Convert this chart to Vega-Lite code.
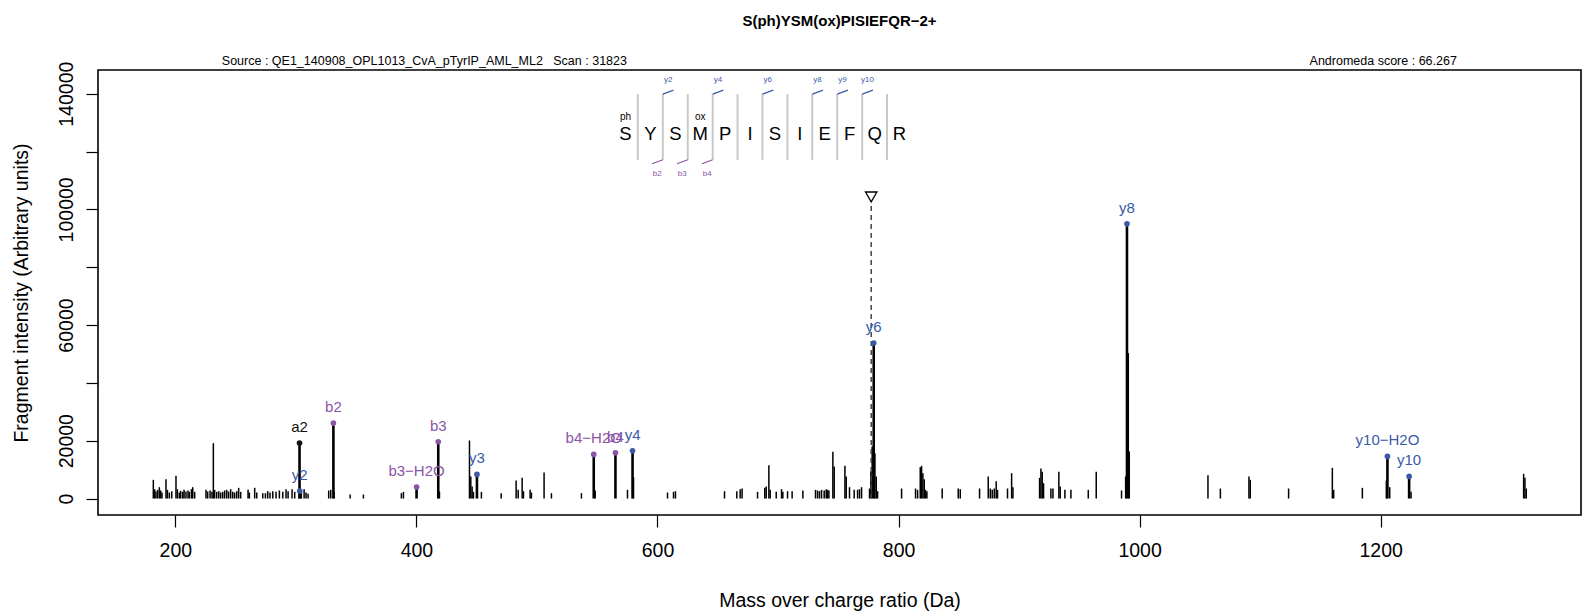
{
  "$schema": "https://vega.github.io/schema/vega-lite/v6.json",
  "width": 1483,
  "height": 445,
  "autosize": {"type": "none"},
  "padding": {"left": 98, "top": 70, "right": 2, "bottom": 96},
  "background": "white",
  "title": {"text": "S(ph)YSM(ox)PISIEFQR−2+", "font": "Liberation Sans", "fontSize": 15, "fontWeight": "bold", "color": "black", "anchor": "middle", "frame": "group", "offset": 26},
  "config": {
    "view": {"stroke": "black", "strokeWidth": 1.6},
    "font": "Liberation Sans",
    "axis": {"domain": false, "grid": false, "tickColor": "black", "tickWidth": 1.2, "tickSize": 12, "labelFont": "Liberation Sans", "labelFontSize": 19.5, "labelColor": "black", "titleFont": "Liberation Sans", "titleFontSize": 19.5, "titleFontWeight": "normal", "titleColor": "black"}
  },
  "datasets": {
    "peaks": [
      {"mz":181.7,"intensity":6460},{"mz":182.8,"intensity":3230},{"mz":183.9,"intensity":2420},{"mz":185.3,"intensity":3000},{"mz":186.7,"intensity":3920},{"mz":187.8,"intensity":2770},{"mz":188.9,"intensity":2080},{"mz":192.2,"intensity":6690},{"mz":193.4,"intensity":3000},{"mz":195.0,"intensity":2080},{"mz":197.0,"intensity":2540},{"mz":200.5,"intensity":7840},{"mz":201.7,"intensity":3230},{"mz":203.3,"intensity":2080},{"mz":204.4,"intensity":2650},{"mz":206.1,"intensity":2310},{"mz":207.2,"intensity":3000},{"mz":208.8,"intensity":2420},{"mz":210.5,"intensity":2770},{"mz":211.6,"intensity":2310},{"mz":213.3,"intensity":3230},{"mz":214.4,"intensity":3920},{"mz":216.0,"intensity":2310},
      {"mz":225.4,"intensity":3000},{"mz":226.8,"intensity":2420},{"mz":228.8,"intensity":2770},{"mz":230.4,"intensity":2310},{"mz":231.5,"intensity":19140},{"mz":232.6,"intensity":3000},{"mz":234.3,"intensity":2310},{"mz":236.0,"intensity":2540},{"mz":237.6,"intensity":2080},{"mz":239.3,"intensity":2310},{"mz":240.9,"intensity":2770},{"mz":242.6,"intensity":3000},{"mz":244.2,"intensity":2420},{"mz":245.9,"intensity":3230},{"mz":247.6,"intensity":2310},{"mz":249.2,"intensity":2080},{"mz":250.9,"intensity":2540},{"mz":252.5,"intensity":3690},{"mz":254.2,"intensity":2310},
      {"mz":260.3,"intensity":3000},{"mz":261.4,"intensity":2080},{"mz":265.8,"intensity":3690},{"mz":267.5,"intensity":2080},{"mz":272.5,"intensity":1850},{"mz":274.7,"intensity":1850},{"mz":276.6,"intensity":2540},{"mz":278.5,"intensity":2080},{"mz":280.8,"intensity":2540},{"mz":283.5,"intensity":2310},{"mz":286.3,"intensity":2770},{"mz":289.1,"intensity":2310},{"mz":291.8,"intensity":3230},{"mz":293.5,"intensity":2540},{"mz":296.8,"intensity":3230},{"mz":299.0,"intensity":2310},{"mz":304.5,"intensity":2310},{"mz":306.8,"intensity":3230},{"mz":308.4,"intensity":2080},{"mz":310.1,"intensity":1620},
      {"mz":327.2,"intensity":2770},{"mz":328.9,"intensity":3000},{"mz":331.7,"intensity":2540},{"mz":345.0,"intensity":1380},{"mz":356.0,"intensity":1380},{"mz":387.5,"intensity":1850},{"mz":389.2,"intensity":2310},{"mz":419.1,"intensity":2420},{"mz":444.0,"intensity":20060},{"mz":445.1,"intensity":7610},{"mz":446.2,"intensity":4150},{"mz":447.3,"intensity":2310},{"mz":453.9,"intensity":2310},
      {"mz":470.3,"intensity":1850},{"mz":482.7,"intensity":6230},{"mz":484.4,"intensity":3000},{"mz":487.7,"intensity":7150},{"mz":488.8,"intensity":2540},{"mz":494.3,"intensity":3000},{"mz":495.4,"intensity":2080},{"mz":505.9,"intensity":8990},{"mz":512.0,"intensity":1850},{"mz":536.9,"intensity":1850},{"mz":548.3,"intensity":2770},{"mz":575.1,"intensity":3000},{"mz":580.1,"intensity":7380},{"mz":608.3,"intensity":2080},{"mz":613.3,"intensity":2310},{"mz":614.9,"intensity":2540},
      {"mz":655.6,"intensity":2540},{"mz":665.8,"intensity":2540},{"mz":668.6,"intensity":3230},{"mz":670.2,"intensity":3460},{"mz":683.0,"intensity":2310},{"mz":689.0,"intensity":3690},{"mz":690.2,"intensity":4150},{"mz":692.4,"intensity":11530},{"mz":693.5,"intensity":3000},{"mz":698.5,"intensity":2310},{"mz":702.9,"intensity":3230},{"mz":704.0,"intensity":2310},{"mz":707.9,"intensity":2540},{"mz":711.7,"intensity":2540},{"mz":720.6,"intensity":2770},{"mz":731.1,"intensity":3000},{"mz":732.8,"intensity":2770},{"mz":734.4,"intensity":2540},{"mz":736.1,"intensity":3000},{"mz":738.3,"intensity":2770},{"mz":740.0,"intensity":3230},{"mz":741.1,"intensity":3000},{"mz":742.2,"intensity":2770},{"mz":745.5,"intensity":16140},{"mz":746.6,"intensity":11070},
      {"mz":755.5,"intensity":11300},{"mz":756.6,"intensity":7610},{"mz":759.3,"intensity":3920},{"mz":763.2,"intensity":3000},{"mz":766.0,"intensity":3000},{"mz":767.6,"intensity":3230},{"mz":769.3,"intensity":3920},{"mz":775.9,"intensity":3460},{"mz":777.0,"intensity":9340},{"mz":778.1,"intensity":17990},{"mz":780.4,"intensity":15680},{"mz":781.5,"intensity":7610},{"mz":782.6,"intensity":2540},
      {"mz":802.5,"intensity":3460},{"mz":814.1,"intensity":3460},{"mz":815.8,"intensity":3000},{"mz":818.0,"intensity":10840},{"mz":819.1,"intensity":11300},{"mz":820.2,"intensity":8760},{"mz":821.3,"intensity":6690},{"mz":822.4,"intensity":3000},{"mz":823.5,"intensity":2540},{"mz":836.2,"intensity":3460},{"mz":849.5,"intensity":3460},{"mz":851.2,"intensity":3230},{"mz":867.2,"intensity":3460},{"mz":874.4,"intensity":7610},{"mz":876.1,"intensity":3460},{"mz":877.7,"intensity":3000},{"mz":879.4,"intensity":3460},{"mz":881.0,"intensity":6000},{"mz":882.1,"intensity":3000},{"mz":890.4,"intensity":3460},{"mz":893.8,"intensity":8760},{"mz":894.9,"intensity":3920},
      {"mz":917.0,"intensity":7150},{"mz":918.1,"intensity":10380},{"mz":919.2,"intensity":9220},{"mz":920.3,"intensity":5300},{"mz":926.4,"intensity":3460},{"mz":928.1,"intensity":3460},{"mz":933.0,"intensity":9220},{"mz":934.1,"intensity":4150},{"mz":938.0,"intensity":3000},{"mz":943.0,"intensity":3000},{"mz":957.4,"intensity":3000},{"mz":964.0,"intensity":9220},{"mz":985.0,"intensity":2770},{"mz":988.4,"intensity":7610},{"mz":990.6,"intensity":50280},{"mz":991.4,"intensity":16260},
      {"mz":1056.7,"intensity":8070},{"mz":1067.0,"intensity":3460},{"mz":1090.7,"intensity":7610},{"mz":1091.8,"intensity":6460},{"mz":1123.6,"intensity":3460},{"mz":1159.9,"intensity":10610},{"mz":1161.0,"intensity":3000},{"mz":1184.8,"intensity":3690},{"mz":1204.7,"intensity":6230},{"mz":1207.5,"intensity":3920},{"mz":1225.2,"intensity":2310},{"mz":1318.6,"intensity":8530},{"mz":1319.7,"intensity":7150},{"mz":1320.8,"intensity":3460}
    ],
    "ions": [
      {"mz":303.0,"intensity":19190,"ion":"a2","type":"a"},
      {"mz":303.2,"intensity":2590,"ion":"y2","type":"y"},
      {"mz":331.1,"intensity":26100,"ion":"b2","type":"b"},
      {"mz":400.1,"intensity":3980,"ion":"b3−H2O","type":"b"},
      {"mz":418.1,"intensity":19640,"ion":"b3","type":"b"},
      {"mz":450.2,"intensity":8330,"ion":"y3","type":"y"},
      {"mz":547.1,"intensity":15250,"ion":"b4−H2O","type":"b"},
      {"mz":565.1,"intensity":15840,"ion":"b4","type":"b"},
      {"mz":579.3,"intensity":16530,"ion":"y4","type":"y"},
      {"mz":779.4,"intensity":53770,"ion":"y6","type":"y"},
      {"mz":989.5,"intensity":95000,"ion":"y8","type":"y"},
      {"mz":1205.6,"intensity":14560,"ion":"y10−H2O","type":"y"},
      {"mz":1223.6,"intensity":7640,"ion":"y10","type":"y"}
    ],
    "precursor": [{"mz":777.3,"top":101200,"mark":104300}],
    "residues": [
      {"aa":"S","pos":573.4},{"aa":"Y","pos":594.1},{"aa":"S","pos":614.8},{"aa":"M","pos":635.4},{"aa":"P","pos":656.1},{"aa":"I","pos":676.8},{"aa":"S","pos":697.5},{"aa":"I","pos":718.1},{"aa":"E","pos":738.8},{"aa":"F","pos":759.5},{"aa":"Q","pos":780.2},{"aa":"R","pos":800.8}
    ],
    "mods": [{"mod":"ph","pos":573.4},{"mod":"ox","pos":635.4}],
    "cuts": [{"pos":583.7},{"pos":604.4},{"pos":625.1},{"pos":645.8},{"pos":666.4},{"pos":687.1},{"pos":707.8},{"pos":728.4},{"pos":749.1},{"pos":769.8},{"pos":790.4}],
    "fragments": [
      {"ion":"y2","type":"y","x":604.4,"x2":613.3,"y":139870,"y2":141250,"lx":608.8,"ly":144570},
      {"ion":"y4","type":"y","x":645.8,"x2":654.7,"y":139870,"y2":141250,"lx":650.2,"ly":144570},
      {"ion":"y6","type":"y","x":687.1,"x2":696.0,"y":139870,"y2":141250,"lx":691.5,"ly":144570},
      {"ion":"y8","type":"y","x":728.4,"x2":737.3,"y":139870,"y2":141250,"lx":732.8,"ly":144570},
      {"ion":"y9","type":"y","x":749.1,"x2":758.0,"y":139870,"y2":141250,"lx":753.5,"ly":144570},
      {"ion":"y10","type":"y","x":769.8,"x2":778.7,"y":139870,"y2":141250,"lx":774.2,"ly":144570},
      {"ion":"b2","type":"b","x":604.4,"x2":595.5,"y":117150,"y2":115770,"lx":599.8,"ly":112200},
      {"ion":"b3","type":"b","x":625.1,"x2":616.2,"y":117150,"y2":115770,"lx":620.5,"ly":112200},
      {"ion":"b4","type":"b","x":645.8,"x2":636.9,"y":117150,"y2":115770,"lx":641.2,"ly":112200}
    ],
    "header": [
      {"label":"Source : QE1_140908_OPL1013_CvA_pTyrIP_AML_ML2\u00a0\u00a0\u00a0Scan : 31823","mz":406.6,"y":151180},
      {"label":"Andromeda score : 66.267","mz":1202.1,"y":151180}
    ]
  },
  "layer": [
    {
      "data": {"name": "peaks"},
      "mark": {"type": "rule", "color": "black", "strokeWidth": 1.5},
      "encoding": {
        "x": {"field": "mz", "type": "quantitative", "scale": {"domain": [135.8, 1366.2], "nice": false, "zero": false},
              "axis": {"values": [200,400,600,800,1000,1200], "format": "d", "title": "Mass over charge ratio (Da)", "labelPadding": 14, "titleY": 85, "titleBaseline": "middle", "labelFlush": false}},
        "y": {"field": "intensity", "type": "quantitative", "scale": {"domain": [-5700, 148200], "nice": false, "zero": false},
              "axis": {"values": [0,20000,40000,60000,80000,100000,120000,140000], "format": "d", "labelExpr": "datum.value == 40000 || datum.value == 80000 || datum.value == 120000 ? '' : datum.label", "labelAngle": -90, "labelAlign": "center", "labelBaseline": "bottom", "labelPadding": 10, "title": "Fragment intensity (Arbitrary units)", "titleAngle": -90, "titleX": -76.5, "titleBaseline": "middle", "labelFlush": false, "labelOverlap": false}},
        "y2": {"datum": 0}
      }
    },
    {
      "data": {"name": "precursor"},
      "mark": {"type": "rule", "color": "#444444", "strokeWidth": 1.5, "strokeDash": [5, 4]},
      "encoding": {
        "x": {"field": "mz", "type": "quantitative"},
        "y": {"field": "top", "type": "quantitative"},
        "y2": {"datum": 0}
      }
    },
    {
      "data": {"name": "precursor"},
      "mark": {"type": "point", "shape": "triangle-down", "filled": false, "color": "black", "strokeWidth": 1.3, "size": 130, "opacity": 1},
      "encoding": {
        "x": {"field": "mz", "type": "quantitative"},
        "y": {"field": "mark", "type": "quantitative"}
      }
    },
    {
      "data": {"name": "ions"},
      "mark": {"type": "rule", "color": "black", "strokeWidth": 2.6},
      "encoding": {
        "x": {"field": "mz", "type": "quantitative"},
        "y": {"field": "intensity", "type": "quantitative"},
        "y2": {"datum": 0}
      }
    },
    {
      "data": {"name": "ions"},
      "mark": {"type": "point", "filled": true, "size": 32, "opacity": 1},
      "encoding": {
        "x": {"field": "mz", "type": "quantitative"},
        "y": {"field": "intensity", "type": "quantitative"},
        "color": {"field": "type", "type": "nominal", "scale": {"domain": ["a","b","y"], "range": ["#111111","#8a54a8","#3a5aa8"]}, "legend": null}
      }
    },
    {
      "data": {"name": "ions"},
      "mark": {"type": "text", "fontSize": 15, "font": "Liberation Sans", "baseline": "alphabetic", "align": "center", "dy": -11},
      "encoding": {
        "x": {"field": "mz", "type": "quantitative"},
        "y": {"field": "intensity", "type": "quantitative"},
        "text": {"field": "ion"},
        "color": {"field": "type", "type": "nominal", "legend": null}
      }
    },
    {
      "data": {"name": "cuts"},
      "mark": {"type": "rule", "color": "#c8c8c8", "strokeWidth": 2},
      "encoding": {
        "x": {"field": "pos", "type": "quantitative"},
        "y": {"datum": 117150},
        "y2": {"datum": 139870}
      }
    },
    {
      "data": {"name": "residues"},
      "mark": {"type": "text", "fontSize": 18.5, "font": "Liberation Sans", "baseline": "middle", "align": "center", "color": "black"},
      "encoding": {
        "x": {"field": "pos", "type": "quantitative"},
        "y": {"datum": 126100},
        "text": {"field": "aa"}
      }
    },
    {
      "data": {"name": "mods"},
      "mark": {"type": "text", "fontSize": 10, "font": "Liberation Sans", "baseline": "middle", "align": "center", "color": "black"},
      "encoding": {
        "x": {"field": "pos", "type": "quantitative"},
        "y": {"datum": 132100},
        "text": {"field": "mod"}
      }
    },
    {
      "data": {"name": "fragments"},
      "mark": {"type": "rule", "strokeWidth": 1.2},
      "encoding": {
        "x": {"field": "x", "type": "quantitative"},
        "x2": {"field": "x2"},
        "y": {"field": "y", "type": "quantitative"},
        "y2": {"field": "y2"},
        "color": {"field": "type", "type": "nominal", "legend": null}
      }
    },
    {
      "data": {"name": "fragments"},
      "mark": {"type": "text", "fontSize": 8, "font": "Liberation Sans", "baseline": "middle", "align": "center"},
      "encoding": {
        "x": {"field": "lx", "type": "quantitative"},
        "y": {"field": "ly", "type": "quantitative"},
        "text": {"field": "ion"},
        "color": {"field": "type", "type": "nominal", "legend": null}
      }
    },
    {
      "data": {"name": "header"},
      "mark": {"type": "text", "fontSize": 12.5, "font": "Liberation Sans", "baseline": "middle", "align": "center", "color": "black"},
      "encoding": {
        "x": {"field": "mz", "type": "quantitative"},
        "y": {"field": "y", "type": "quantitative"},
        "text": {"field": "label"}
      }
    }
  ]
}
